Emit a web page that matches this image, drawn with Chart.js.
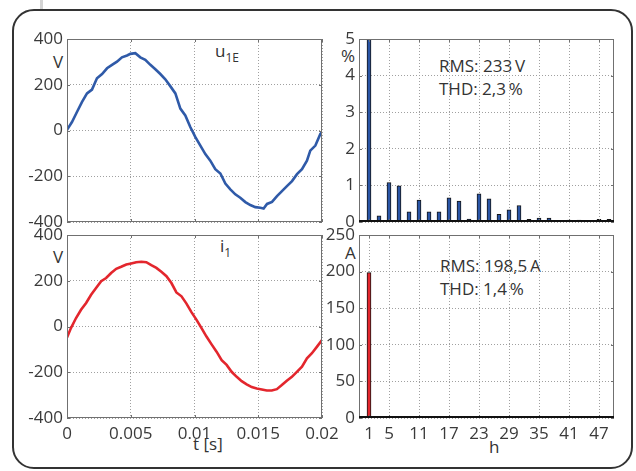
<!DOCTYPE html>
<html lang="de">
<head>
<meta charset="UTF-8">
<title>u1E / i1 – Kurvenform und Oberschwingungen</title>
<style>
  body {
    margin: 0;
    width: 636px;
    height: 471px;
    position: relative;
    overflow: hidden;
    background: #fff;
    font-family: "Open Sans", sans-serif;
    color: #333;
  }
  .frame {
    position: absolute;
    left: 12px;
    top: 9px;
    width: 617px;
    height: 456px;
    border: 2px solid #333;
    border-radius: 22px;
  }
  .tab {
    position: absolute;
    left: 40px;
    top: 0;
    width: 3px;
    height: 9px;
    background: #d4d4d4;
  }
  canvas { position: absolute; }
  .txt {
    position: absolute;
    font-size: 17px;
    line-height: 1;
    white-space: nowrap;
  }
  .txt sub {
    font-size: 12px;
    vertical-align: -5px;
    line-height: 1;
  }
</style>
</head>
<body>
  <div class="tab"></div>
  <div class="frame"></div>

  <div class="txt" style="left:215px; top:42px;">u<sub>1E</sub></div>
  <div class="txt" style="left:220px; top:237px;">i<sub>1</sub></div>
  <div class="txt" style="left:53px; top:53px;">V</div>
  <div class="txt" style="left:53px; top:248px;">V</div>
  <div class="txt" style="left:341px; top:47px;">%</div>
  <div class="txt" style="left:345px; top:244px;">A</div>
  <div class="txt" style="left:439px; top:57px;">RMS: 233&#8201;V</div>
  <div class="txt" style="left:439px; top:80px;">THD: 2,3&#8201;%</div>
  <div class="txt" style="left:440px; top:257px;">RMS: 198,5&#8201;A</div>
  <div class="txt" style="left:440px; top:280px;">THD: 1,4&#8201;%</div>
  <div class="txt" style="left:193px; top:435px;">t [s]</div>
  <div class="txt" style="left:489px; top:438px;">h</div>

  <script src="https://cdn.jsdelivr.net/npm/chart.js"></script>
  <script>
    // voltage u1E over one period
    const uTime = [0, 0.00039, 0.00078, 0.00118, 0.00157, 0.00196, 0.00235, 0.00275, 0.00314, 0.00353,
      0.00392, 0.00431, 0.00471, 0.00497, 0.00536, 0.00575, 0.00614, 0.00654, 0.00693, 0.00732,
      0.00771, 0.00810, 0.00850, 0.00889, 0.00928, 0.00967, 0.01007, 0.01046, 0.01085, 0.01124,
      0.01163, 0.01203, 0.01242, 0.01281, 0.01320, 0.01359, 0.01399, 0.01438, 0.01477, 0.01516,
      0.01542, 0.01569, 0.01608, 0.01647, 0.01686, 0.01725, 0.01765, 0.01804, 0.01843, 0.01882,
      0.01908, 0.01948, 0.01987, 0.02];
    const uValues = [3, 37, 81, 125, 162, 179, 228, 247, 272, 287,
      301, 320, 328, 335, 338, 320, 309, 287, 268, 247,
      224, 194, 162, 96, 66, 15, -29, -66, -103, -132,
      -169, -188, -232, -257, -279, -294, -313, -326, -335, -338,
      -341, -321, -312, -287, -265, -243, -221, -191, -169, -132,
      -88, -66, -15, -7];

    // current i1 over one period
    const iTime = [0, 0.00031, 0.00071, 0.00110, 0.00150, 0.00189, 0.00228, 0.00268, 0.00307, 0.00346,
      0.00386, 0.00425, 0.00465, 0.00504, 0.00543, 0.00583, 0.00622, 0.00661, 0.00701, 0.00740,
      0.00780, 0.00819, 0.00858, 0.00898, 0.00937, 0.00976, 0.01016, 0.01055, 0.01094, 0.01134,
      0.01173, 0.01213, 0.01252, 0.01291, 0.01331, 0.01370, 0.01409, 0.01449, 0.01488, 0.01528,
      0.01567, 0.01606, 0.01646, 0.01685, 0.01724, 0.01764, 0.01803, 0.01843, 0.01882, 0.01921,
      0.01961, 0.02];
    const iValues = [-48, -7, 37, 73, 103, 139, 168, 198, 212, 234,
      252, 261, 271, 275, 281, 283, 281, 268, 256, 239,
      220, 190, 149, 132, 100, 63, 29, -7, -44, -78,
      -110, -147, -168, -198, -220, -239, -253, -265, -271, -275,
      -280, -280, -274, -256, -237, -220, -198, -176, -139, -117,
      -88, -59];

    // harmonic spectra
    const oddH = [1, 3, 5, 7, 9, 11, 13, 15, 17, 19, 21, 23, 25, 27, 29, 31, 33, 35, 37, 39, 41, 43, 45, 47, 49];
    const evenH = [2, 4, 6, 8, 10, 12, 14, 16, 18, 20, 22, 24, 26, 28, 30, 32, 34, 36, 38, 40, 42, 44, 46, 48, 50];
    const uOddPct = [100, 0.17, 1.08, 0.99, 0.28, 0.6, 0.28, 0.28, 0.66, 0.57, 0.08, 0.77, 0.63,
      0.21, 0.33, 0.45, 0.07, 0.11, 0.11, 0.01, 0.05, 0.05, 0.01, 0.07, 0.07];
    const uEvenPct = [0.04, 0.02, 0.01, 0.01, 0.01, 0.01, 0.01, 0.01, 0.01, 0.01, 0.01, 0.01, 0.01,
      0.02, 0.04, 0.01, 0.01, 0.01, 0.01, 0.01, 0.01, 0.01, 0.01, 0.01, 0.01];
    const iOddAmp = [198.5, 0.4, 1.6, 0.3, 0.2, 0.2, 0.2, 0.2, 0.2, 0.2, 0.2, 0.2, 0.2,
      0.2, 0.2, 0.2, 0.2, 0.2, 0.2, 0.2, 0.2, 0.2, 0.2, 0.2, 0.2];
    const iEvenAmp = [0.3, 0.2, 0.2, 0.2, 0.2, 0.2, 0.2, 0.2, 0.2, 0.2, 0.2, 0.2, 0.2,
      0.2, 0.2, 0.2, 0.2, 0.2, 0.2, 0.2, 0.2, 0.2, 0.2, 0.2, 0.2];

    const timeTicks = [0, 0.005, 0.01, 0.015, 0.02];
    const hTicks = [1, 5, 11, 17, 23, 29, 35, 41, 47];

    const BLUE = '#2f5aa8';
    const RED = '#e3262d';
    const TICK_FONT = { family: 'Open Sans', size: 17 };
    const TICK_COLOR = '#3a3a3a';

    // box + inner tick marks like the original plots
    const boxPlugin = {
      id: 'box',
      afterDraw(chart, args, opts) {
        const a = chart.chartArea, ctx = chart.ctx;
        const xs = chart.scales.x, ys = chart.scales.y;
        ctx.save();
        ctx.strokeStyle = '#707070';
        ctx.lineWidth = 1;
        ctx.beginPath();
        xs.ticks.forEach(t => {
          const px = Math.round(xs.getPixelForValue(t.value)) + 0.5;
          ctx.moveTo(px, a.bottom); ctx.lineTo(px, a.bottom - 3);
          ctx.moveTo(px, a.top); ctx.lineTo(px, a.top + 3);
        });
        ys.ticks.forEach(t => {
          const py = Math.round(ys.getPixelForValue(t.value)) + 0.5;
          ctx.moveTo(a.left, py); ctx.lineTo(a.left + 3, py);
          ctx.moveTo(a.right, py); ctx.lineTo(a.right - 3, py);
        });
        ctx.stroke();
        ctx.strokeRect(a.left + 0.5, a.top + 0.5, a.right - a.left - 1, a.bottom - a.top - 1);
        if (opts.baseline) {
          ctx.strokeStyle = '#111';
          ctx.lineWidth = 2;
          ctx.beginPath();
          ctx.moveTo(a.left, a.bottom - 1);
          ctx.lineTo(a.right, a.bottom - 1);
          ctx.stroke();
        }
        ctx.restore();
      }
    };

    function fixSize(size) {
      return function (scale) {
        if (scale.isHorizontal()) scale.height = size; else scale.width = size;
        scale.paddingLeft = 0; scale.paddingRight = 0;
        scale.paddingTop = 0; scale.paddingBottom = 0;
      };
    }

    function setTicks(list) {
      return function (scale) {
        scale.ticks = list.map(v => ({ value: v }));
      };
    }

    const Y_W = 56, PAD_T = 14, PAD_R = 22, PAD_B = 14, X_H = 30;

    function makeCanvas(plot, showX) {
      const c = document.createElement('canvas');
      const xh = showX ? X_H : 0;
      const w = Y_W + (plot.r - plot.l) + PAD_R;
      const h = PAD_T + (plot.b - plot.t) + xh + PAD_B;
      c.width = w; c.height = h;
      c.style.left = (plot.l - Y_W) + 'px';
      c.style.top = (plot.t - PAD_T) + 'px';
      c.style.width = w + 'px';
      c.style.height = h + 'px';
      document.body.appendChild(c);
      return c;
    }

    function baseOptions(baseline) {
      return {
        responsive: false,
        animation: false,
        devicePixelRatio: 1,
        layout: { padding: { left: 0, top: PAD_T, right: PAD_R, bottom: PAD_B } },
        plugins: { legend: { display: false }, tooltip: { enabled: false }, box: { baseline: baseline } },
        scales: {}
      };
    }

    function waveChart(plot, showX, time, values, color) {
      const canvas = makeCanvas(plot, showX);
      const opts = baseOptions(false);
      opts.scales = {
        x: {
          type: 'linear', min: 0, max: 0.02,
          afterBuildTicks: setTicks(timeTicks),
          afterFit: fixSize(showX ? X_H : 0),
          grid: { color: '#a0a0a0', drawTicks: false },
          border: { display: false, dash: [1, 2] },
          ticks: {
            display: showX, padding: 6, maxRotation: 0, autoSkip: false,
            font: TICK_FONT, color: TICK_COLOR,
            callback: v => String(Number(v.toFixed(3)))
          }
        },
        y: {
          min: -400, max: 400,
          afterBuildTicks: setTicks([-400, -200, 0, 200, 400]),
          afterFit: fixSize(Y_W),
          grid: { color: '#a0a0a0', drawTicks: false },
          border: { display: false, dash: [1, 2] },
          ticks: { padding: 4, font: TICK_FONT, color: TICK_COLOR }
        }
      };
      return new Chart(canvas, {
        type: 'line',
        data: {
          datasets: [{
            data: time.map((t, k) => ({ x: t, y: values[k] })),
            borderColor: color,
            borderWidth: 2.6,
            pointRadius: 0,
            tension: 0
          }]
        },
        options: opts,
        plugins: [boxPlugin]
      });
    }

    function spectrumChart(plot, showX, oddVals, evenVals, yMax, yTicks, color) {
      const canvas = makeCanvas(plot, showX);
      const opts = baseOptions(true);
      opts.scales = {
        x: {
          type: 'linear', min: -1, max: 50, offset: false,
          afterBuildTicks: setTicks(hTicks),
          afterFit: fixSize(showX ? X_H : 0),
          grid: { color: '#a0a0a0', drawTicks: false, offset: false },
          border: { display: false, dash: [1, 2] },
          ticks: {
            display: showX, padding: 6, maxRotation: 0, autoSkip: false,
            font: TICK_FONT, color: TICK_COLOR
          }
        },
        y: {
          min: 0, max: yMax,
          afterBuildTicks: setTicks(yTicks),
          afterFit: fixSize(Y_W),
          grid: { color: '#a0a0a0', drawTicks: false },
          border: { display: false, dash: [1, 2] },
          ticks: { padding: 4, font: TICK_FONT, color: TICK_COLOR }
        }
      };
      return new Chart(canvas, {
        type: 'bar',
        data: {
          datasets: [
            {
              data: oddH.map((h, k) => ({ x: h, y: oddVals[k] })),
              backgroundColor: color,
              borderColor: '#151515',
              borderWidth: 1,
              barThickness: 4,
              grouped: false,
              clip: 0
            },
            {
              data: evenH.map((h, k) => ({ x: h, y: evenVals[k] })),
              backgroundColor: '#151515',
              borderColor: '#151515',
              borderWidth: 1,
              barThickness: 4,
              grouped: false,
              clip: 0
            }
          ]
        },
        options: opts,
        plugins: [boxPlugin]
      });
    }

    waveChart({ l: 67, t: 39, r: 322, b: 222 }, false, uTime, uValues, BLUE);
    waveChart({ l: 67, t: 235, r: 322, b: 418 }, true, iTime, iValues, RED);
    spectrumChart({ l: 359, t: 39, r: 614, b: 222 }, false, uOddPct, uEvenPct, 5, [0, 1, 2, 3, 4, 5], '#2a55a5');
    spectrumChart({ l: 359, t: 235, r: 614, b: 418 }, true, iOddAmp, iEvenAmp, 250, [0, 50, 100, 150, 200, 250], RED);
  </script>
</body>
</html>
